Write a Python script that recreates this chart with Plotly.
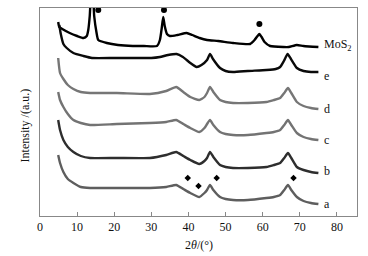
import plotly.graph_objects as go

# 2theta positions and stacked intensities (a.u., offset)
mos2_x = [4.9, 5.2, 6, 8, 10, 11.7, 12.6, 13.0, 13.4, 13.8, 14.2, 14.6, 15.2, 15.7, 18, 21, 25, 28, 31.5,
          32.3, 32.8, 33.2, 33.6, 34.2, 35, 37, 39.5, 41, 43, 45, 48, 52, 56.6, 57.8, 58.6, 59.1,
          59.7, 60.5, 62, 65.6, 67, 69.2, 71, 75]
mos2_y = [194, 189, 187, 183, 180, 178, 180, 186, 200, 222, 224, 200, 184, 176, 173, 171, 170, 170, 170,
          176, 188, 199, 190, 182, 180, 181, 183, 181, 178, 176, 175, 173, 172, 176, 180, 182,
          179, 174, 170, 169, 169, 171, 170, 169]

e_x = [5.2, 5.6, 6.3, 7.2, 9, 11.7, 14, 20, 25, 30, 32.3, 34.5, 36.8, 38.5, 40.5, 42.2, 43.5, 45,
       45.8, 46.6, 48.5, 50, 52, 56, 61, 63.5, 64.7, 65.7, 66.7, 67.6, 69.2, 71, 73, 75]
e_y = [191, 182, 172, 168, 163, 160, 158, 158, 158, 158, 159, 161, 162, 159, 153, 149, 151, 156,
       162, 157, 148, 145, 144, 145, 146, 147, 149, 155, 162, 157, 148, 145, 144, 144]

abcd_x = [4.9, 5.4, 6.3, 7.5, 9, 11, 13.5, 20.7, 29.6, 34, 36.7, 38.6, 40.5, 42.9, 44.3, 45, 45.8,
          46.7, 48.5, 50, 52, 56, 61, 63, 64.7, 65.8, 66.8, 67.7, 69.2, 71, 73, 75]
d_y = [158, 143, 137, 131, 127, 124, 123, 123, 122, 125, 129, 124, 119, 116, 119, 123, 129,
       124, 116, 114, 113, 113, 114, 116, 118, 123, 128, 123, 114, 110, 108, 107]
c_y = [124, 116, 109, 102, 96, 93, 91, 92, 93, 94, 96, 92, 88, 84, 88, 92, 96,
       91, 84, 82, 81, 81, 83, 84, 86, 91, 96, 91, 83, 79, 77, 76]
b_y = [96, 86, 76, 69, 64, 60, 58, 58, 58, 61, 64, 60, 56, 52, 55, 58, 64,
       59, 51, 49, 48, 48, 49, 51, 53, 58, 63, 58, 49, 46, 44, 43]
a_y = [61, 53, 44, 37, 33, 29, 28, 28, 28, 29, 31, 27, 23, 19, 23, 26, 31,
       26, 19, 17, 16, 16, 18, 19, 21, 26, 31, 26, 19, 15, 13, 12]

series_names = ["MoS<sub>2</sub>", "e", "d", "c", "b", "a"]
series_x = [mos2_x, e_x, abcd_x, abcd_x, abcd_x, abcd_x]
series_y = [mos2_y, e_y, d_y, c_y, b_y, a_y]
series_colors = ["#000000", "#0a0a0a", "#767676", "#737373", "#2e2e2e", "#5e5e5e"]
label_y = [171, 140, 107, 76, 45, 12]

mos2_peak_x = [15.7, 33.4, 59.1]
mos2_peak_y = [206, 206, 192]
sup_peak_x = [39.8, 42.7, 47.6, 68.3]
sup_peak_y = [38, 30, 38, 38]

x_ticks = [0, 10, 20, 30, 40, 50, 60, 70, 80]

serif = "'Liberation Serif', 'Times New Roman', serif"

fig = go.Figure()
for name, xs, ys, col in zip(series_names, series_x, series_y, series_colors):
    fig.add_trace(go.Scatter(x=xs, y=ys, mode="lines", name=name,
                             line=dict(color=col, width=2.4, shape="spline", smoothing=0.5),
                             showlegend=False))

fig.add_trace(go.Scatter(x=mos2_peak_x, y=mos2_peak_y, mode="markers",
                         marker=dict(symbol="circle", size=6, color="black"),
                         showlegend=False, cliponaxis=False))
fig.add_trace(go.Scatter(x=sup_peak_x, y=sup_peak_y, mode="markers",
                         marker=dict(symbol="diamond", size=5, color="black"),
                         showlegend=False))

for name, ly in zip(series_names, label_y):
    fig.add_annotation(x=76.0, y=ly, text=name, showarrow=False, xanchor="left",
                       yanchor="middle", font=dict(family=serif, size=12, color="#111"))

fig.add_annotation(xref="paper", yref="paper", x=-0.076, y=0.435, text="Intensity /(a.u.)",
                   textangle=-90, showarrow=False, font=dict(family=serif, size=12, color="#111"))
fig.add_annotation(xref="paper", yref="paper", x=0.5, y=-0.139, text="2<i>θ</i>/(°)",
                   showarrow=False, yanchor="middle",
                   font=dict(family=serif, size=12, color="#111"))

fig.update_layout(
    template="none",
    width=368, height=256,
    margin=dict(l=40, r=11, t=8, b=40, autoexpand=False),
    paper_bgcolor="white", plot_bgcolor="white",
    xaxis=dict(range=[0, 85.4], tickvals=x_ticks, ticks="inside", ticklen=4,
               tickcolor="#888", linecolor="#888", linewidth=1, mirror=True,
               showgrid=False, zeroline=False, automargin=False,
               tickfont=dict(family=serif, size=12, color="#111")),
    yaxis=dict(range=[0, 208], showticklabels=False, ticks="", linecolor="#888",
               linewidth=1, mirror=True, showgrid=False, zeroline=False, automargin=False),
)

fig.write_html("out.html", config={"displayModeBar": False},
               post_script="document.body.style.margin='0';document.body.style.overflow='hidden';")
